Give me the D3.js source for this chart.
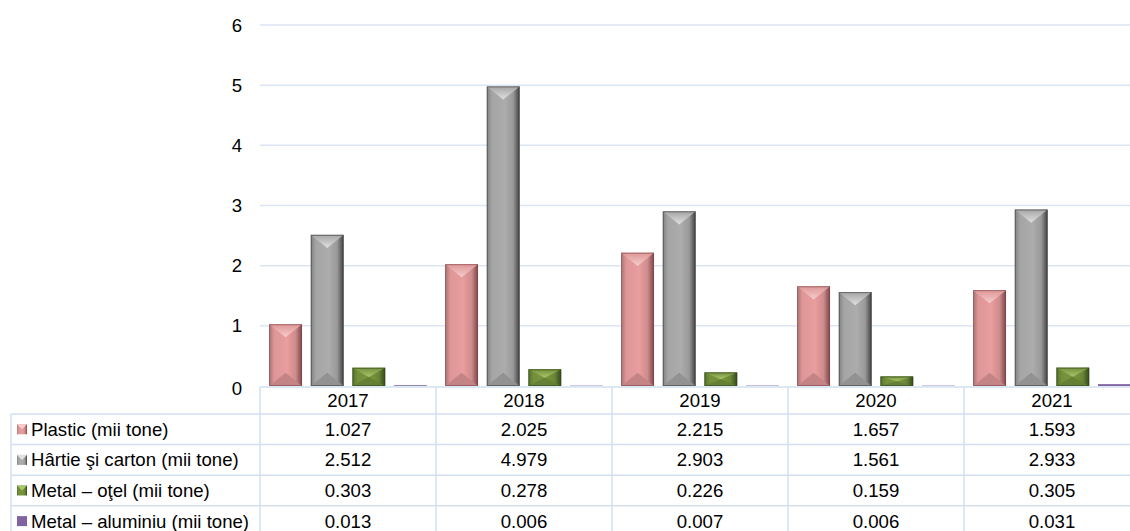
<!DOCTYPE html>
<meta charset="utf-8">
<title>Deseuri de ambalaje</title>
<style>
  body { margin: 0; background: #fff; }
  svg { display: block; font-family: "Liberation Sans", Arial, sans-serif; }
  .grid line { stroke: #dbe5f4; stroke-width: 1.5px; }
  .tbl line { stroke: #d3dff0; stroke-width: 1.5px; }
  .ylab text, .tbl text { fill: #000; font-size: 18.6px; }
</style>
<svg width="1130" height="531"></svg>
<script src="https://cdn.jsdelivr.net/npm/d3@7"></script>
<script>
  // data
  var years = ["2017", "2018", "2019", "2020", "2021"];
  var series = ["Plastic (mii tone)", "Hârtie şi carton (mii tone)", "Metal – oţel (mii tone)", "Metal – aluminiu (mii tone)"];
  var plastic = [1.027, 2.025, 2.215, 1.657, 1.593];
  var hartie = [2.512, 4.979, 2.903, 1.561, 2.933];
  var otel = [0.303, 0.278, 0.226, 0.159, 0.305];
  var aluminiu = [0.013, 0.006, 0.007, 0.006, 0.031];
  var yTicks = [0, 1, 2, 3, 4, 5, 6];

  var values = [plastic, hartie, otel, aluminiu];
  // base, light, dark
  var colors = [
    ["#de9697", "#f7cccd", "#7d4647"],
    ["#a5a5a5", "#e0e0e0", "#404040"],
    ["#72903a", "#aac66e", "#34461a"],
    ["#8064a2", "#b59fd0", "#4a3766"]
  ];

  var svg = d3.select("svg");
  // the chart is a bit wider than the window, right side gets clipped
  var plotLeft = 260, plotRight = 1140, plotTop = 25, plotBottom = 386;
  var rowH = 30.6, headTop = 387, headH = 27, tblLeft = 11;

  var x0 = d3.scaleBand().domain(years).range([plotLeft, plotRight]);
  var x1 = d3.scaleBand().domain(d3.range(series.length))
    .range([0, x0.bandwidth()]).paddingInner(0.21).paddingOuter(0.22);
  var y = d3.scaleLinear().domain([0, 6]).range([plotBottom, plotTop]);

  var defs = svg.append("defs");
  colors.forEach(function(c, i) {
    var g = defs.append("linearGradient").attr("id", "side" + i)
      .attr("x1", 0).attr("x2", 1).attr("y1", 0).attr("y2", 0);
    g.append("stop").attr("offset", "0").attr("stop-color", d3.color(c[0]).darker(0.7));
    g.append("stop").attr("offset", "0.16").attr("stop-color", c[0]);
    g.append("stop").attr("offset", "0.55").attr("stop-color", d3.color(c[0]).brighter(0.12));
    g.append("stop").attr("offset", "0.8").attr("stop-color", d3.color(c[0]).darker(0.2));
    g.append("stop").attr("offset", "1").attr("stop-color", c[2]);
    var t = defs.append("linearGradient").attr("id", "top" + i)
      .attr("x1", 0).attr("x2", 0).attr("y1", 0).attr("y2", 1);
    t.append("stop").attr("offset", "0").attr("stop-color", c[0]);
    t.append("stop").attr("offset", "1").attr("stop-color", c[1]);
  });

  // gridlines
  svg.append("g").attr("class", "grid")
    .selectAll("line").data(yTicks.slice(1)).enter().append("line")
    .attr("x1", plotLeft).attr("x2", plotRight)
    .attr("y1", function(d) { return y(d); })
    .attr("y2", function(d) { return y(d); });

  // y labels
  svg.append("g").attr("class", "ylab")
    .selectAll("text").data(yTicks).enter().append("text")
    .attr("x", 242).attr("y", function(d) { return y(d) + (d === 0 ? 2 : 0); })
    .attr("dy", "0.35em").attr("text-anchor", "end")
    .text(function(d) { return d; });

  // bars
  var bars = [];
  values.forEach(function(arr, s) {
    arr.forEach(function(v, k) { bars.push({ s: s, year: years[k], v: v }); });
  });

  var bar = svg.append("g").selectAll("g").data(bars).enter().append("g");

  bar.each(function(d) {
    var g = d3.select(this);
    var bx = x0(d.year) + x1(d.s), bw = x1.bandwidth();
    var by = y(d.v), bh = plotBottom - by;
    var c = colors[d.s];
    if (bh < 4) {
      // too thin for a bevel
      g.append("rect").attr("x", bx).attr("y", by).attr("width", bw).attr("height", bh)
        .attr("fill", c[0]);
      return;
    }
    g.append("rect").attr("x", bx).attr("y", by).attr("width", bw).attr("height", bh)
      .attr("fill", "url(#side" + d.s + ")");
    var b = Math.min(bw * 0.4, bh / 2);
    var cx = bx + bw / 2;
    // top bevel
    g.append("path")
      .attr("d", "M" + bx + "," + by + "L" + (bx + bw) + "," + by + "L" + cx + "," + (by + b) + "Z")
      .attr("fill", "url(#top" + d.s + ")");
    // bottom bevel
    g.append("path")
      .attr("d", "M" + bx + "," + plotBottom + "L" + (bx + bw) + "," + plotBottom + "L" + cx + "," + (plotBottom - b) + "Z")
      .attr("fill", d3.color(c[0]).darker(0.35));
    g.append("rect").attr("x", bx + 0.5).attr("y", by + 0.5).attr("width", bw - 1).attr("height", bh - 1)
      .attr("fill", "none").attr("stroke", c[2]).attr("stroke-opacity", 0.6);
  });

  // data table
  var tbl = svg.append("g").attr("class", "tbl");
  var tblBottom = headTop + headH + rowH * 4;
  tbl.append("line").attr("x1", plotLeft).attr("x2", plotRight).attr("y1", headTop).attr("y2", headTop);
  d3.range(5).forEach(function(r) {
    var yy = headTop + headH + r * rowH;
    tbl.append("line").attr("x1", tblLeft).attr("x2", plotRight).attr("y1", yy).attr("y2", yy);
  });
  tbl.append("line").attr("x1", tblLeft).attr("x2", tblLeft).attr("y1", headTop + headH).attr("y2", tblBottom);
  years.forEach(function(yr) {
    tbl.append("line").attr("x1", x0(yr)).attr("x2", x0(yr)).attr("y1", headTop).attr("y2", tblBottom);
  });

  // header
  tbl.selectAll(".yr").data(years).enter().append("text")
    .attr("class", "yr")
    .attr("x", function(d) { return x0(d) + x0.bandwidth() / 2; })
    .attr("y", headTop + headH / 2).attr("dy", "0.35em")
    .attr("text-anchor", "middle")
    .text(function(d) { return d; });

  series.forEach(function(name, s) {
    var cy = headTop + headH + s * rowH + rowH / 2;
    var c = colors[s];
    // legend key
    tbl.append("rect").attr("x", 17).attr("y", cy - 5).attr("width", 10).attr("height", 10)
      .attr("fill", s === 3 ? c[0] : "url(#side" + s + ")");
    if (s < 3) {
      tbl.append("path").attr("d", "M17," + (cy - 5) + "L27," + (cy - 5) + "L22," + cy + "Z").attr("fill", c[1]);
    }
    tbl.append("text").attr("x", 31).attr("y", cy).attr("dy", "0.35em").text(name);
    tbl.selectAll(".v" + s).data(values[s]).enter().append("text")
      .attr("x", function(d, k) { return x0(years[k]) + x0.bandwidth() / 2; })
      .attr("y", cy).attr("dy", "0.35em").attr("text-anchor", "middle")
      .text(function(d) { return d3.format(".3f")(d); });
  });
</script>
